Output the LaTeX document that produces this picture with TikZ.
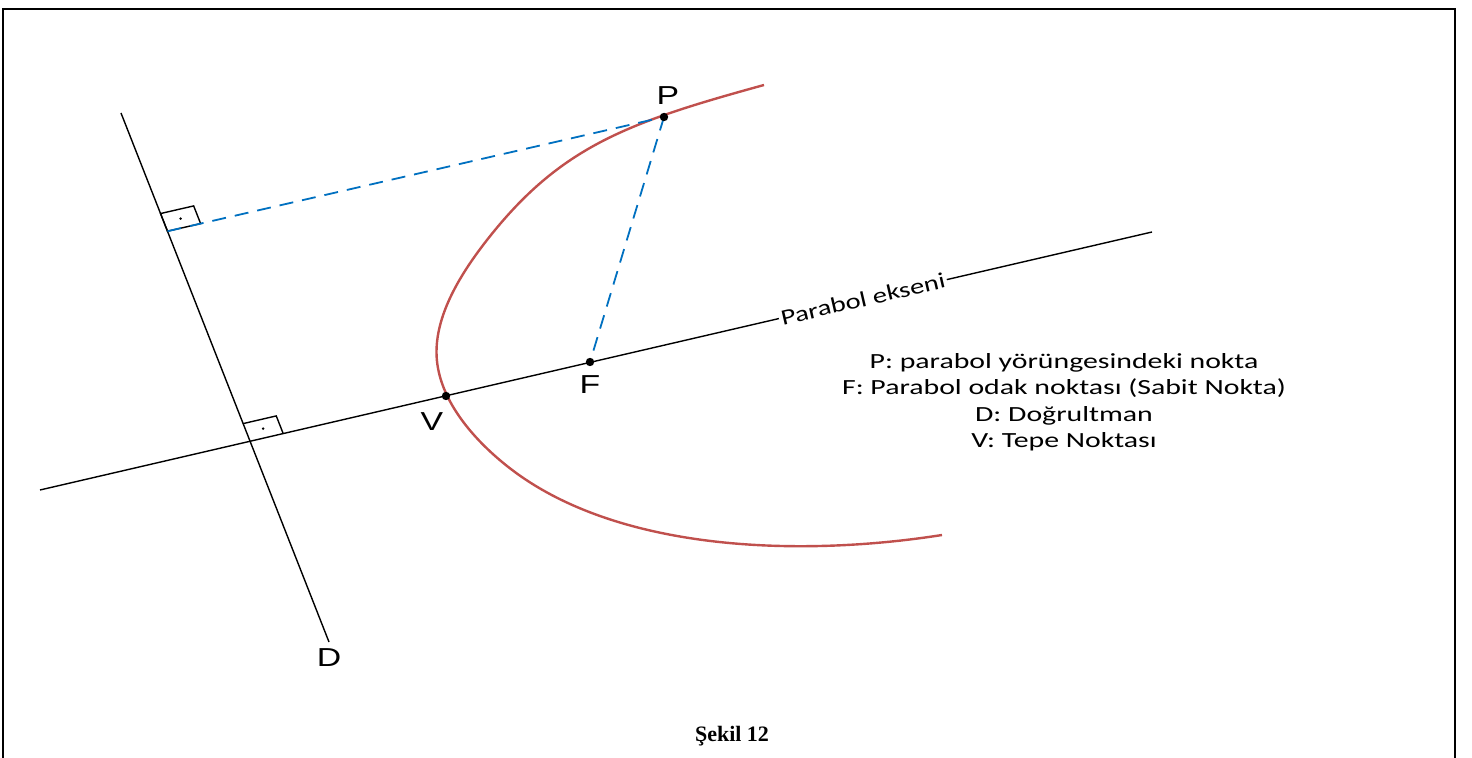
\documentclass[tikz,border=0pt]{standalone}
\usepackage{fontspec}
\setmainfont{Liberation Serif}
\newfontfamily\lblfont[FakeStretch=1.3]{Liberation Sans}
\newfontfamily\txtfont[FakeStretch=1.3]{Carlito}
\newfontfamily\lgdfont[FakeStretch=1.38]{Carlito}
\usetikzlibrary{positioning, calc, backgrounds}
\definecolor{clCurve}{RGB}{192, 80, 77}
\definecolor{clDash} {RGB}{  0,112,192}
\tikzset{
  frame/.style={line width=1pt, draw=black},
  thinline/.style={line width=0.7pt, draw=black},
  curve/.style={line width=1.2pt, draw=clCurve},
  dashline/.style={line width=0.9pt, draw=clDash, dash pattern=on 7pt off 4.5pt},
  pnt/.style={circle, fill=black, inner sep=0pt, minimum size=4.2pt},
  rmark/.style={line width=0.7pt, draw=black},
  ptlabel/.style={font=\lblfont\fontsize{13}{15}\selectfont, inner sep=0pt},
  axlabel/.style={font=\txtfont\fontsize{11}{13}\selectfont, fill=white, inner sep=1pt},
  legend/.style={font=\lgdfont\fontsize{10.8}{13.25}\selectfont, align=center},
  caption/.style={font=\bfseries\fontsize{11}{13}\selectfont}
}

\begin{document}
\begin{tikzpicture}[x=0.5pt, y=-0.5pt]
    \useasboundingbox (0,0) rectangle (1472,758);

    % ============================================================
    % FRAME
    % ============================================================
    \draw [frame] (3,758) -- (3,9) -- (1455,9) -- (1455,758);

    % ============================================================
    % LINES AND POINTS
    % ============================================================
    \coordinate (axL) at (40,490);
    \coordinate (axR) at (1152,232);
    \coordinate (dT) at (121,113);
    \coordinate (dB) at (329,642);

    \node (P) [pnt] at (664,117) {};
    \node (F) [pnt] at (590,362) {};
    \node (V) [pnt] at (446,396) {};

    % foot of the perpendicular from P and axis crossing on D
    \coordinate (H) at ($(dT)!0.2235!(dB)$);
    \coordinate (O) at (intersection of axL--axR and dT--dB);

    \begin{scope}[on background layer]
      % axis and directrix
      \draw [thinline] (axL) -- node[pos=0.74, sloped, axlabel] {Parabol ekseni} (axR);
      \draw [thinline] (dT) -- (dB);

      % the parabola
      \draw [curve] (764,85) .. controls (629,122.2) and (560.9,145.6) .. (487,240)
        .. controls (462.4,271.5) and (436.5,312) .. (436.5,352)
        .. controls (436.5,397) and (471.8,438) .. (507,466)
        .. controls (616.6,553.2) and (803.7,556.8) .. (942,535);

      % right angle marks
      \coordinate (h1) at ($(H)!9.5pt!(dT)$);
      \coordinate (h2) at ($(H)!17pt!(P)$);
      \draw [rmark] (h1) -- ($(h1)+(h2)-(H)$) -- (h2) -- (H) -- cycle;
      \fill ($0.5*(h1)+0.5*(h2)$) circle (0.7pt);

      \coordinate (o1) at ($(O)!9.5pt!(dT)$);
      \coordinate (o2) at ($(O)!17pt!(axR)$);
      \draw [rmark] (o1) -- ($(o1)+(o2)-(O)$) -- (o2);
      \fill ($0.5*(o1)+0.5*(o2)$) circle (0.7pt);

      % distances to D and to F
      \draw [dashline] (H) -- (P.center);
      \draw [dashline] (P.center) -- (F.center);
    \end{scope}

    % ============================================================
    % LABELS
    % ============================================================
    \node (lP) [ptlabel, above=3.5pt of P, xshift=2pt] {P};
    \node (lF) [ptlabel, below=4.5pt of F] {F};
    \node (lV) [ptlabel, below=6pt of V, xshift=-7pt] {V};
    \node (lD) [ptlabel, below=3pt of dB] {D};

    \node (legend) [legend] at (1064,402) {
      P: parabol yörüngesindeki nokta\\
      F: Parabol odak noktası (Sabit Nokta)\\
      D: Doğrultman\\
      V: Tepe Noktası
    };

    \node (cap) [caption] at (732,736) {Şekil 12};

\end{tikzpicture}
\end{document}
